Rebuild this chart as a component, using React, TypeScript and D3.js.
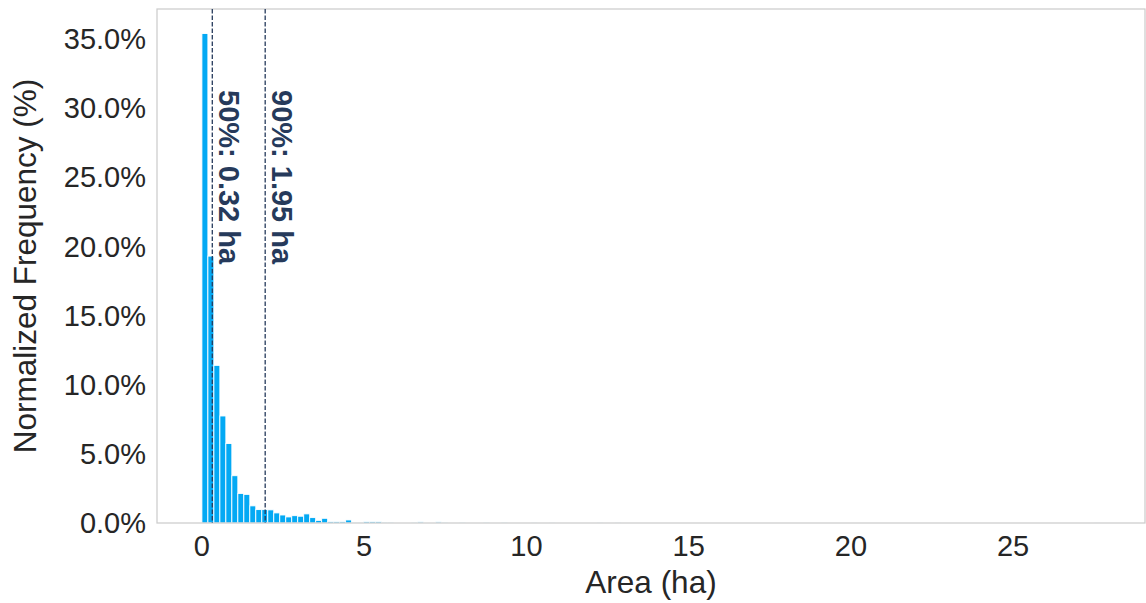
import React from "react";
import * as d3 from "d3";

// normalized frequency (%) per bin, 150 equal bins from 0 to max area
const binCount = 150;
const areaMax = 27.68;
const freqPct = [
  35.4, 19.3, 11.4, 7.74, 5.75, 3.42, 2.14, 2.07, 1.24, 0.97,
  0.97, 0.95, 0.73, 0.58, 0.44, 0.53, 0.49, 0.66, 0.39, 0.19,
  0.34, 0.1, 0.1, 0.1, 0.22, 0.01, 0.01, 0.1, 0.1, 0.1,
  0.02, 0.02, 0, 0, 0, 0.01, 0.08, 0, 0, 0.08,
  0.03, 0, 0, 0.01, 0, 0, 0, 0.01, 0, 0,
  0.01, 0, 0, 0, 0, 0.005, 0, 0, 0.005, 0,
  0, 0, 0, 0, 0, 0, 0.005, 0, 0, 0.005,
  0, 0, 0, 0, 0, 0, 0, 0, 0, 0,
  0, 0, 0, 0, 0, 0, 0, 0, 0, 0,
  0, 0, 0, 0, 0, 0, 0, 0, 0, 0,
  0, 0, 0, 0, 0, 0, 0, 0, 0, 0,
  0, 0, 0, 0, 0, 0, 0, 0, 0, 0,
  0, 0, 0, 0, 0, 0, 0, 0, 0, 0,
  0, 0, 0, 0, 0, 0, 0, 0, 0, 0,
  0, 0, 0, 0, 0, 0, 0, 0, 0, 0.003,
];
const percentiles = [
  { label: "50%: 0.32 ha", value: 0.32 },
  { label: "90%: 1.95 ha", value: 1.95 },
];
const xTicks = [0, 5, 10, 15, 20, 25];
const yTicks = [0, 5, 10, 15, 20, 25, 30, 35];

const W = 1146;
const H = 603;
const margin = { top: 9, right: 1, bottom: 80, left: 157 };
const font = "'Liberation Sans', Arial, sans-serif";
const barColor = "#03a9f4";
const navy = "#263a5b";
const ink = "#262626";

export default function App() {
  const binW = areaMax / binCount;
  const pad = areaMax * 0.05;

  const x = d3
    .scaleLinear()
    .domain([-pad, areaMax + pad])
    .range([margin.left, W - margin.right]);

  const y = d3
    .scaleLinear()
    .domain([0, (d3.max(freqPct) as number) * 1.05])
    .range([H - margin.bottom, margin.top]);

  const x0 = margin.left;
  const x1 = W - margin.right;
  const y0 = H - margin.bottom;
  const y1 = margin.top;

  return (
    <svg
      width={W}
      height={H}
      style={{ position: "absolute", left: 0, top: 0, background: "#fff" }}
      fontFamily={font}
    >
      {/* bars */}
      {freqPct.map((v, i) =>
        v > 0 ? (
          <rect
            key={i}
            x={x(i * binW)}
            y={y(v)}
            width={x((i + 1) * binW) - x(i * binW)}
            height={y(0) - y(v)}
            fill={barColor}
            stroke="#fff"
            strokeWidth={0.9}
          />
        ) : null
      )}

      {/* spines */}
      <rect
        x={x0}
        y={y1}
        width={x1 - x0}
        height={y0 - y1}
        fill="none"
        stroke="#cccccc"
        strokeWidth={1.25}
      />

      {/* percentile lines */}
      {percentiles.map((p) => (
        <g key={p.label}>
          <line
            x1={x(p.value)}
            x2={x(p.value)}
            y1={y1}
            y2={y0}
            stroke={navy}
            strokeWidth={1.3}
            strokeDasharray="4.5,2"
          />
          <text
            transform={`translate(${x(p.value) + 7},${y1 + 81}) rotate(90)`}
            fontSize={29}
            fontWeight="bold"
            fill={navy}
          >
            {p.label}
          </text>
        </g>
      ))}

      {/* y ticks */}
      {yTicks.map((t) => (
        <text
          key={t}
          x={x0 - 11}
          y={y(t)}
          dy="0.35em"
          textAnchor="end"
          fontSize={29}
          fill={ink}
        >
          {`${t.toFixed(1)}%`}
        </text>
      ))}

      {/* x ticks */}
      {xTicks.map((t) => (
        <text
          key={t}
          x={x(t)}
          y={y0 + 12}
          dy="0.71em"
          textAnchor="middle"
          fontSize={29}
          fill={ink}
        >
          {t}
        </text>
      ))}

      {/* axis labels */}
      <text
        x={(x0 + x1) / 2}
        y={H - 10}
        textAnchor="middle"
        fontSize={31.5}
        fill={ink}
      >
        Area (ha)
      </text>
      <text
        transform={`translate(36,${(y0 + y1) / 2}) rotate(-90)`}
        textAnchor="middle"
        fontSize={31.5}
        fill={ink}
      >
        Normalized Frequency (%)
      </text>
    </svg>
  );
}
